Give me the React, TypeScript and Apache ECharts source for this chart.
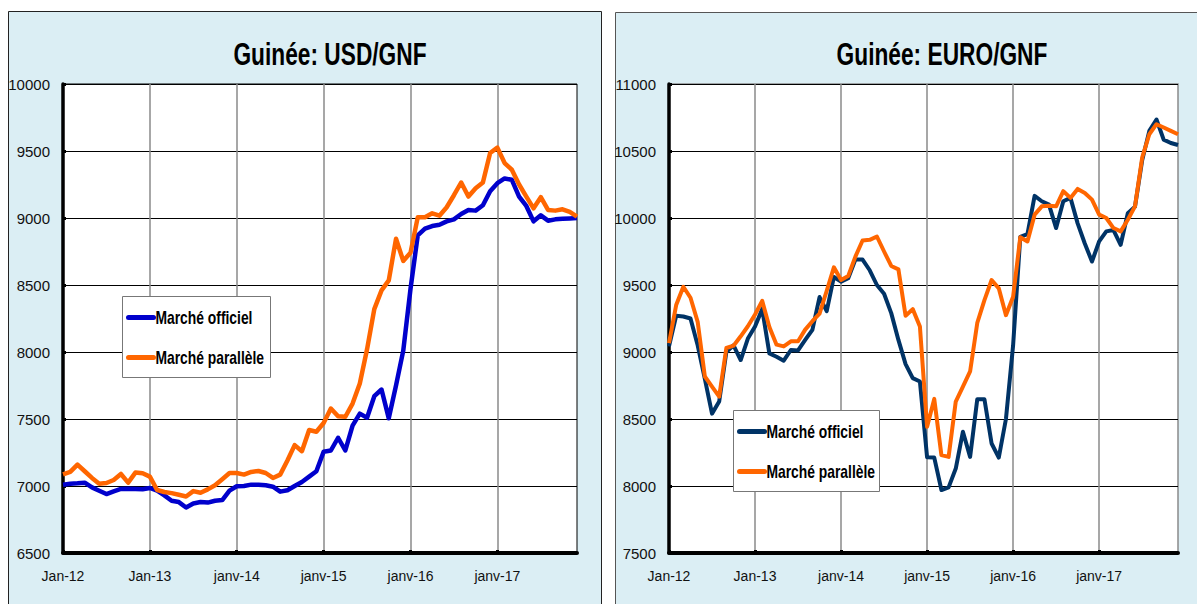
import React, { useEffect, useRef } from "react";
import * as echarts from "echarts";

const years = ["2012", "2013", "2014", "2015", "2016", "2017"];
const monthNums = ["01", "02", "03", "04", "05", "06", "07", "08", "09", "10", "11", "12"];
const yearTickLabels = ["Jan-12", "Jan-13", "janv-14", "janv-15", "janv-16", "janv-17"];

const categories: string[] = [];
years.forEach((y) => monthNums.forEach((m) => categories.push(y + "-" + m)));

const usdOfficial = [
  7010, 7017, 7020, 7025, 6990, 6965, 6940, 6960, 6978, 6980, 6978, 6976,
  6985, 6965, 6930, 6890, 6880, 6840, 6870, 6880, 6876, 6890, 6895, 6965,
  6998, 7000, 7010, 7010, 7005, 6995, 6958, 6968, 7000, 7030, 7070, 7110,
  7255, 7265, 7360, 7265, 7450, 7540, 7510, 7670, 7720, 7505, 7750, 8010,
  8470, 8870, 8920, 8940, 8950, 8975, 8990, 9030, 9060, 9055, 9095, 9200,
  9260, 9295, 9285, 9160, 9090, 8975, 9020, 8980, 8990, 8995, 8997, 9000,
];
const usdParallel = [
  7087, 7105, 7160, 7110, 7060, 7017, 7022, 7045, 7090, 7025, 7100, 7095,
  7070, 6970, 6955, 6947, 6935, 6922, 6962, 6950, 6975, 7005, 7050, 7097,
  7097, 7085, 7105, 7112, 7097, 7060, 7085, 7190, 7305, 7260, 7418, 7405,
  7470, 7578, 7520, 7517, 7615, 7765, 8020, 8320, 8460, 8535, 8845, 8680,
  8740, 9005, 9005, 9035, 9017, 9080, 9170, 9265, 9160, 9222, 9265, 9485,
  9525, 9410, 9360, 9250, 9160, 9072, 9155, 9060, 9055, 9065, 9045, 9010,
];
const eurOfficial = [
  9042, 9270, 9265, 9250, 9050, 8800, 8540, 8630, 9000, 9050, 8940, 9100,
  9190, 9320, 8990, 8965, 8935, 9015, 9012, 9090, 9165, 9410, 9305, 9560,
  9525, 9550, 9690, 9690, 9610, 9500, 9435, 9290, 9090, 8910, 8805, 8780,
  8215, 8212, 7970, 7990, 8130, 8405, 8217, 8647, 8647, 8317, 8212, 8500,
  9050, 9860, 9880, 10165, 10125, 10100, 9925, 10125, 10150, 9960, 9810, 9675,
  9825, 9900, 9910, 9800, 10035, 10085, 10430, 10650, 10735, 10585, 10560, 10545,
];
const eurParallel = [
  9067, 9350, 9487, 9405, 9225, 8817, 8742, 8667, 9030, 9047, 9117, 9192,
  9280, 9382, 9187, 9055, 9042, 9080, 9080, 9167, 9230, 9287, 9457, 9632,
  9537, 9567, 9712, 9832, 9837, 9862, 9750, 9642, 9617, 9270, 9320, 9190,
  8442, 8650, 8230, 8217, 8630, 8742, 8855, 9217, 9387, 9537, 9475, 9275,
  9412, 9857, 9825, 10025, 10087, 10092, 10087, 10200, 10150, 10217, 10187, 10137,
  10025, 10000, 9925, 9900, 9987, 10087, 10450, 10625, 10700, 10675, 10650, 10625,
];

const seriesNames = ["Marché officiel", "Marché parallèle"];
const titles = ["Guinée: USD/GNF", "Guinée: EURO/GNF"];

const FONT = "'Liberation Sans', Arial, sans-serif";
const PANEL_BG = "#dbeef4";
const BLUE = "#0000cc";
const NAVY = "#003366";
const ORANGE = "#ff6600";

function xAxisFor(gridIndex: number) {
  return {
    type: "category",
    gridIndex,
    data: categories,
    boundaryGap: false,
    axisLine: { show: true, lineStyle: { color: "#000", width: 4 } },
    axisTick: {
      show: true,
      inside: true,
      length: 3,
      lineStyle: { color: "#000", width: 3 },
      interval: (i: number) => i % 12 === 0,
    },
    axisLabel: {
      interval: (i: number) => i % 12 === 0,
      formatter: (_v: string, i: number) => yearTickLabels[Math.floor(i / 12)] || "",
      fontFamily: FONT,
      fontSize: 14,
      color: "#111",
      margin: 16,
    },
    splitLine: {
      show: true,
      interval: (i: number) => i % 12 === 0 && i > 0,
      lineStyle: { color: "#8a8a8a", width: 1.5 },
    },
  };
}

function yAxisFor(gridIndex: number, min: number, max: number) {
  return {
    type: "value",
    gridIndex,
    min,
    max,
    interval: 500,
    axisLine: { show: true, lineStyle: { color: "#000", width: 3.5 } },
    axisTick: { show: true, inside: true, length: 3, lineStyle: { color: "#000", width: 3 } },
    axisLabel: {
      fontFamily: FONT,
      fontSize: 15,
      color: "#111",
      margin: 13,
      formatter: (v: number) => String(v),
    },
    splitLine: { show: true, lineStyle: { color: "#000", width: 1 } },
  };
}

function legendGraphic(x: number, y: number, w: number, h: number, colors: string[], lineW: number) {
  const items: any[] = [
    {
      type: "rect",
      z: 100,
      shape: { x, y, width: w, height: h },
      style: { fill: "#fff", stroke: "#777", lineWidth: 1 },
    },
  ];
  seriesNames.forEach((name, k) => {
    const cy = y + 21 + k * 40;
    items.push({
      type: "line",
      z: 101,
      shape: { x1: x + 6, y1: cy, x2: x + 31, y2: cy },
      style: { stroke: colors[k], lineWidth: lineW, lineCap: "round" },
    });
    items.push({
      type: "text",
      z: 101,
      x: x + 33,
      y: cy,
      scaleX: 0.77,
      style: {
        text: name,
        fill: "#000",
        fontFamily: FONT,
        fontWeight: "bold",
        fontSize: 18,
        verticalAlign: "middle",
        align: "left",
      },
    });
  });
  return items;
}

function titleGraphic(text: string, cx: number) {
  return {
    type: "text",
    z: 50,
    x: cx,
    y: 54,
    scaleX: 0.71,
    style: {
      text,
      fill: "#000",
      fontFamily: FONT,
      fontWeight: "bold",
      fontSize: 32,
      align: "center",
      verticalAlign: "middle",
    },
  };
}

export default function App() {
  const ref = useRef<HTMLDivElement>(null);
  useEffect(() => {
    if (!ref.current) return;
    const chart = echarts.init(ref.current, undefined, { renderer: "svg" });
    const lineSeries = (name: string, data: number[], color: string, idx: number, w: number) => ({
      type: "line",
      name,
      data,
      xAxisIndex: idx,
      yAxisIndex: idx,
      showSymbol: false,
      symbol: "none",
      lineStyle: { color, width: w, join: "round" },
      itemStyle: { color },
      z: 3,
    });
    chart.setOption({
      animation: false,
      backgroundColor: "#fff",
      grid: [
        { left: 63, top: 84, width: 514, height: 469, show: true, backgroundColor: "#fff", borderColor: "#000", borderWidth: 1 },
        { left: 669, top: 84, width: 509, height: 469, show: true, backgroundColor: "#fff", borderColor: "#8a8a8a", borderWidth: 1.5 },
      ],
      xAxis: [xAxisFor(0), xAxisFor(1)],
      yAxis: [yAxisFor(0, 6500, 10000), yAxisFor(1, 7500, 11000)],
      series: [
        lineSeries(seriesNames[0], usdOfficial, BLUE, 0, 4.5),
        lineSeries(seriesNames[1], usdParallel, ORANGE, 0, 4.5),
        lineSeries(seriesNames[0], eurOfficial, NAVY, 1, 4),
        lineSeries(seriesNames[1], eurParallel, ORANGE, 1, 4),
      ],
      graphic: [
        {
          type: "rect",
          z: -100,
          shape: { x: 8.5, y: 11.5, width: 593, height: 600 },
          style: { fill: PANEL_BG, stroke: "#222", lineWidth: 1 },
        },
        {
          type: "rect",
          z: -100,
          shape: { x: 615.5, y: 12.5, width: 590, height: 600 },
          style: { fill: PANEL_BG, stroke: "#555", lineWidth: 1 },
        },
        titleGraphic(titles[0], 330),
        titleGraphic(titles[1], 942),
        ...legendGraphic(122.5, 296.5, 148, 81, [BLUE, ORANGE], 5),
        ...legendGraphic(733.5, 410.5, 146, 81, [NAVY, ORANGE], 5),
      ],
    });
    return () => chart.dispose();
  }, []);
  return (
    <div
      ref={ref}
      style={{ position: "fixed", left: 0, top: 0, width: 1197, height: 604 }}
    />
  );
}
